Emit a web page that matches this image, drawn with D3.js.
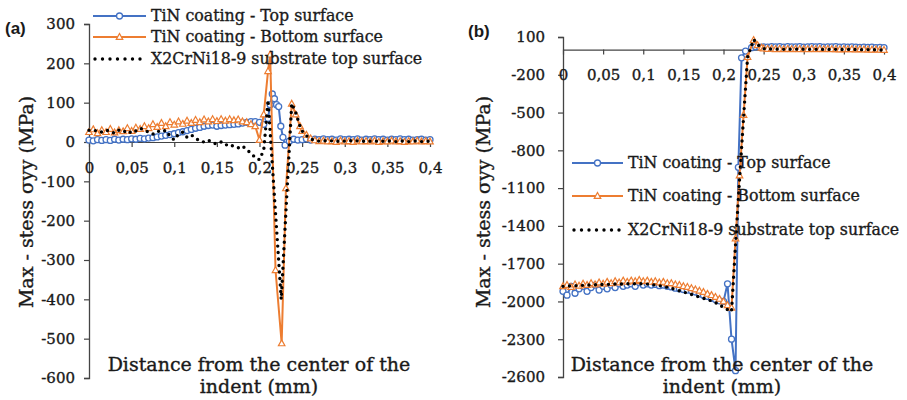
<!DOCTYPE html>
<html><head><meta charset="utf-8">
<script src="https://cdn.jsdelivr.net/npm/d3@7"></script>
<style>
html,body{margin:0;padding:0;background:#fff;}
svg text{font-family:"DejaVu Serif",serif;fill:#1a1a1a;}
svg text.serif{stroke:#1a1a1a;stroke-width:0.35px;}
</style></head>
<body>
<svg id="chart" width="907" height="400"></svg>
<script>
// ---------- DATA ----------
const xTicks = [0,0.05,0.1,0.15,0.2,0.25,0.3,0.35,0.4];
const aYTicks = [300,200,100,0,-100,-200,-300,-400,-500,-600];
const bYTicks = [100,-200,-500,-800,-1100,-1400,-1700,-2000,-2300,-2600];
const seriesNames = ["TiN coating - Top surface","TiN coating - Bottom surface","X2CrNi18-9 substrate top surface"];
const xTitle = ["Distance from the center of the","indent (mm)"];
const yTitle = "Max - stess σyy (MPa)";

// shared x positions (mm)
const headX = [0,0.005,0.01,0.015,0.02,0.025,0.03,0.035,0.04,0.045,
  0.05,0.055,0.06,0.065,0.07,0.075,0.08,0.085,0.09,0.095,
  0.1,0.105,0.11,0.115,0.12,0.125,0.13,0.135,0.14,0.145,
  0.15,0.155,0.16,0.165,0.17,0.175,0.18,0.185,0.19,0.195,0.2];
const tailX = [0.25,0.255,0.26,0.265,0.27,0.275,0.28,0.285,0.29,0.295,
  0.3,0.305,0.31,0.315,0.32,0.325,0.33,0.335,0.34,0.345,
  0.35,0.355,0.36,0.365,0.37,0.375,0.38,0.385,0.39,0.395,0.4];

// ---- panel (a) ----
const aTopHead = [5,3,6,4,6,4,7,5,7,6, 8,7,9,8,10,11,13,15,17,19, 21,24,26,29,32,35,37,40,42,43, 40,42,43,44,45,46,48,50,52,52, 50];
const aTopSpikeX = [0.205,0.21,0.2125,0.215,0.2175,0.22,0.2225,0.225,0.2275,0.23,0.235,0.24,0.245];
const aTopSpikeY = [45,60,95,122,110,95,90,40,12,-8,2,7,5];
const aTopTail = [6,8,5,7,6,8,6,7,5,8, 6,7,6,8,5,7,6,8,6,7, 5,7,6,8,6,7,5,6,7,5,6];

const aBotHead = [25,32,22,30,25,33,24,30,27,35, 28,36,33,40,35,45,38,48,40,50, 44,52,46,54,48,56,50,57,52,58, 53,58,54,58,55,57,52,50,45,40, 5];
const aBotSpikeX = [0.205,0.21,0.2125,0.2188,0.226,0.231,0.2378,0.2425,0.2475];
const aBotSpikeY = [70,180,222,-326,-512,-118,97,70,40];
const aBotTail = [28,18,9,4,2,3,1,2,0,3, 1,2,0,3,1,2,1,3,0,2, 1,3,1,2,0,2,1,3,1,2,1];

const aSubHead = [30,28,30,25,30,28,22,30,25,30, 22,28,35,30,25,20,28,25,30,15, 5,20,25,12,18,10,2,0,5,-2, -5,0,-8,-5,-12,-15,-10,-20,-28,-40, -45];
const aSubSpikeX = [0.205,0.2075,0.21,0.2255,0.2378,0.2425,0.2475];
const aSubSpikeY = [-20,40,107,-400,98,75,40];
const aSubTail = [28,16,8,4,2,4,2,3,1,3, 2,4,2,3,1,3,2,3,1,2, 3,2,1,3,2,1,2,3,1,2,2];

// ---- panel (b) ----
const bTopHead = [-1920,-1950,-1880,-1935,-1900,-1880,-1920,-1890,-1870,-1910,
  -1880,-1900,-1870,-1890,-1860,-1880,-1870,-1860,-1880,-1850,
  -1870,-1860,-1870,-1865,-1875,-1870,-1880,-1885,-1895,-1900,
  -1905,-1910,-1915,-1925,-1940,-1950,-1960,-1975,-1985,-1995, -2000];
const bTopSpikeX = [0.205,0.21,0.215,0.2185,0.2225,0.2275,0.235,0.24,0.245];
const bTopSpikeY = [-1860,-2300,-2550,-935,-65,-12,15,22,20];
const bTopTail = [22,20,24,21,23,20,24,22,21,23, 20,22,24,21,23,20,22,21,23,20, 22,19,21,20,18,20,17,19,16,18,15];

const bBotHead = [-1880,-1870,-1885,-1865,-1875,-1860,-1870,-1855,-1865,-1850,
  -1860,-1845,-1855,-1840,-1850,-1835,-1845,-1835,-1840,-1830,
  -1840,-1835,-1845,-1840,-1850,-1845,-1855,-1855,-1865,-1870,
  -1880,-1885,-1895,-1905,-1915,-1925,-1940,-1950,-1965,-1980, -2000];
const bBotSpikeX = [0.205,0.21,0.215,0.22,0.225,0.23,0.2375,0.2425,0.2475];
const bBotSpikeY = [-2030,-2050,-1500,-1000,-520,-60,75,35,15];
const bBotTail = [8,5,6,3,5,2,4,3,5,2, 4,3,5,2,4,3,4,2,3,1, 3,2,3,1,2,0,1,-1,0,-2,-3];

const bSubHead = [-1880,-1878,-1876,-1875,-1873,-1872,-1870,-1870,-1868,-1867,
  -1865,-1865,-1863,-1862,-1862,-1860,-1860,-1860,-1860,-1860,
  -1860,-1862,-1865,-1870,-1875,-1880,-1888,-1895,-1905,-1915,
  -1925,-1935,-1945,-1955,-1965,-1975,-1985,-1995,-2010,-2025, -2050];
const bSubSpikeX = [0.205,0.21,0.215,0.22,0.225,0.23,0.2375,0.2425,0.2475];
const bSubSpikeY = [-2065,-2080,-1550,-1030,-540,-60,80,40,15];
const bSubTail = [8,4,5,3,4,2,3,2,4,2, 3,1,3,2,3,1,2,1,2,0, 1,2,0,1,0,-1,0,-2,-1,-3,-4];

// ---------- HELPERS ----------
function build(head, sx, sy, tail){
  const xs = headX.concat(sx, tailX), ys = head.concat(sy, tail);
  const n = Math.min(xs.length, ys.length);
  const out = [];
  for(let i=0;i<n;i++) out.push({x:xs[i], y:ys[i]});
  return out;
}
const BLUE = "#4472C4", ORANGE = "#ED7D31";
const svg = d3.select("#chart");

function triPath(cx, cy, s){
  const h = s*0.9;
  return `M${cx},${cy-h*0.6}L${cx+s/2},${cy+h*0.4}L${cx-s/2},${cy+h*0.4}Z`;
}

function drawSeries(g, data, x, y, kind){
  const line = d3.line().x(d=>x(d.x)).y(d=>y(d.y));
  if(kind==="top"){
    g.append("path").datum(data).attr("d",line).attr("fill","none")
      .attr("stroke",BLUE).attr("stroke-width",2);
    g.selectAll(null).data(data).join("circle")
      .attr("cx",d=>x(d.x)).attr("cy",d=>y(d.y)).attr("r",3)
      .attr("fill","#fff").attr("stroke",BLUE).attr("stroke-width",1.3);
  } else if(kind==="bot"){
    g.append("path").datum(data).attr("d",line).attr("fill","none")
      .attr("stroke",ORANGE).attr("stroke-width",2);
    g.selectAll(null).data(data).join("path")
      .attr("d",d=>triPath(x(d.x),y(d.y),6.5))
      .attr("fill","#fff").attr("stroke",ORANGE).attr("stroke-width",1.2);
  } else {
    g.append("path").datum(data).attr("d",line).attr("fill","none")
      .attr("stroke","#000").attr("stroke-width",3.4)
      .attr("stroke-linecap","round").attr("stroke-dasharray","0 6.5");
  }
}

function legend(g, x0, x1, tx, rows){
  const kinds = ["top","bot","sub"];
  rows.forEach((ry,i)=>{
    const k = kinds[i];
    const mx = (x0+x1)/2;
    if(k==="top"){
      g.append("line").attr("x1",x0).attr("x2",x1).attr("y1",ry).attr("y2",ry)
        .attr("stroke",BLUE).attr("stroke-width",2);
      g.append("circle").attr("cx",mx).attr("cy",ry).attr("r",3)
        .attr("fill","#fff").attr("stroke",BLUE).attr("stroke-width",1.3);
    } else if(k==="bot"){
      g.append("line").attr("x1",x0).attr("x2",x1).attr("y1",ry).attr("y2",ry)
        .attr("stroke",ORANGE).attr("stroke-width",2);
      g.append("path").attr("d",triPath(mx,ry,6.5))
        .attr("fill","#fff").attr("stroke",ORANGE).attr("stroke-width",1.2);
    } else {
      g.append("line").attr("x1",x0+2).attr("x2",x1).attr("y1",ry).attr("y2",ry)
        .attr("stroke","#000").attr("stroke-width",3.4)
        .attr("stroke-linecap","round").attr("stroke-dasharray","0 7.5");
    }
    g.append("text").attr("class","serif").attr("x",tx).attr("y",ry+5).attr("font-size",15.8)
      .text(seriesNames[i]);
  });
}

function panel(cfg){
  const g = svg.append("g");
  const x = d3.scaleLinear().domain([0,0.4]).range([cfg.x0,cfg.x1]);
  const y = d3.scaleLinear().domain(cfg.yDom).range([cfg.y1,cfg.y0]);

  // y axis
  const ya = g.append("g").attr("transform",`translate(${cfg.x0},0)`)
    .call(d3.axisLeft(y).tickValues(cfg.yTicks).tickSize(5).tickPadding(cfg.yPad).tickFormat(d=>String(d)));
  ya.select(".domain").attr("stroke","#444").attr("stroke-width",1.3);
  ya.selectAll(".tick line").attr("stroke","#444").attr("stroke-width",1.2);
  ya.selectAll("text").attr("class","serif").attr("font-family","DejaVu Serif").attr("font-size",15).attr("fill","#1a1a1a");

  // x axis at y=0
  const xa = g.append("g").attr("transform",`translate(0,${y(0)})`)
    .call(d3.axisBottom(x).tickValues(xTicks).tickSize(5).tickSizeOuter(0)
      .tickFormat(d=>String(d).replace(".",",")));
  xa.select(".domain").attr("stroke","#444").attr("stroke-width",1.2);
  xa.selectAll(".tick line").attr("stroke","#444").attr("stroke-width",1.2);
  xa.selectAll("text").attr("class","serif").attr("font-family","DejaVu Serif").attr("font-size",15)
    .attr("fill","#1a1a1a").attr("y",20);

  // series
  const sg = g.append("g");
  drawSeries(sg, cfg.top, x, y, "top");
  drawSeries(sg, cfg.bot, x, y, "bot");
  drawSeries(sg, cfg.sub, x, y, "sub");

  // titles
  g.append("text").attr("class","serif").attr("x",cfg.xtX).attr("y",371).attr("text-anchor","middle")
    .attr("font-size",19).text(xTitle[0]);
  g.append("text").attr("class","serif").attr("x",cfg.xtX).attr("y",393).attr("text-anchor","middle")
    .attr("font-size",19).text(xTitle[1]);
  g.append("text").attr("class","serif").attr("transform",`translate(${cfg.ytX},202) rotate(-90)`)
    .attr("text-anchor","middle").attr("font-size",19).text(yTitle);

  g.append("text").attr("x",cfg.lblX).attr("y",cfg.lblY)
    .style("font-family","'Liberation Sans',Arial,sans-serif").attr("font-weight","bold")
    .attr("font-size",17).text(cfg.label);

  legend(g, cfg.leg[0], cfg.leg[1], cfg.leg[2], cfg.legRows);
}

panel({
  x0:89, x1:430, y0:24, y1:378, yDom:[-600,300], yTicks:aYTicks, yPad:9,
  top:build(aTopHead,aTopSpikeX,aTopSpikeY,aTopTail),
  bot:build(aBotHead,aBotSpikeX,aBotSpikeY,aBotTail),
  sub:build(aSubHead,aSubSpikeX,aSubSpikeY,aSubTail),
  xtX:259, ytX:33, label:"(a)", lblX:5, lblY:34,
  leg:[93,146,151], legRows:[16,37,59]
});
panel({
  x0:563, x1:884, y0:37, y1:377, yDom:[-2600,100], yTicks:bYTicks, yPad:13,
  top:build(bTopHead,bTopSpikeX,bTopSpikeY,bTopTail),
  bot:build(bBotHead,bBotSpikeX,bBotSpikeY,bBotTail),
  sub:build(bSubHead,bSubSpikeX,bSubSpikeY,bSubTail),
  xtX:722, ytX:490, label:"(b)", lblX:468, lblY:37,
  leg:[572,623,628], legRows:[163,196,230]
});
</script>
</body></html>
